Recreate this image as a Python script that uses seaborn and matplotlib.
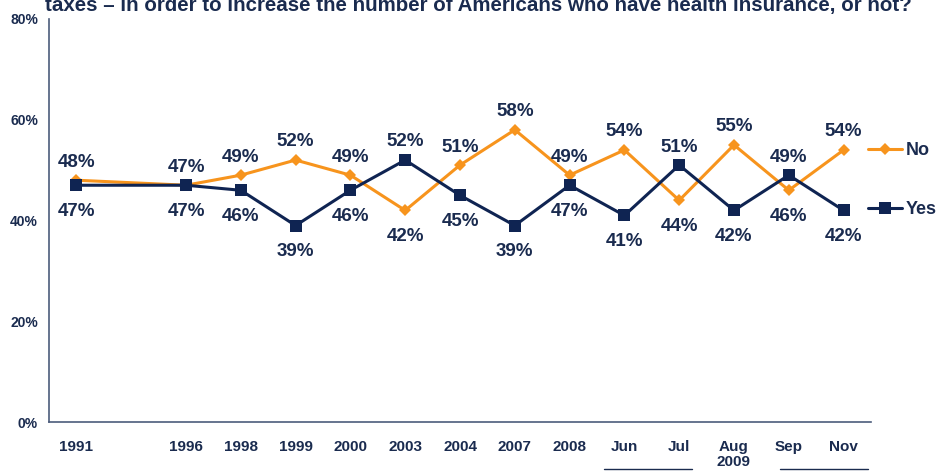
import pandas as pd
import matplotlib.pyplot as plt
import seaborn as sns

# ------------------------------
# Data
# ------------------------------
categories = ["1991", "", "1996", "1998", "1999", "2000", "2003", "2004",
              "2007", "2008", "Jun", "Jul", "Aug", "Sep", "Nov"]
waves = ["1991", "1996", "1998", "1999", "2000", "2003", "2004",
         "2007", "2008", "Jun", "Jul", "Aug", "Sep", "Nov"]
no_vals = [48, 47, 49, 52, 49, 42, 51, 58, 49, 54, 44, 55, 46, 54]
yes_vals = [47, 47, 46, 39, 46, 52, 45, 39, 47, 41, 51, 42, 49, 42]
y_ticks = [0, 20, 40, 60, 80]
title = "taxes \u2013 in order to increase the number of Americans who have health insurance, or not?"

NAVY = "#0F2452"
ORANGE = "#F7941D"
TEXT = "#1A2B4F"
AXIS = "#4C5C7C"

pos = [categories.index(w) for w in waves]
df = pd.DataFrame({
    "pos": pos * 2,
    "value": no_vals + yes_vals,
    "answer": ["No"] * len(waves) + ["Yes"] * len(waves),
})

sns.set_style("white")
plt.rcParams["font.family"] = ["Liberation Sans", "DejaVu Sans"]
plt.rcParams["font.weight"] = "bold"

fig = plt.figure(figsize=(9.41, 4.74), dpi=100)
ax = fig.add_axes([49 / 941, 52 / 474, 822 / 941, 403 / 474])

sns.lineplot(data=df, x="pos", y="value", hue="answer", style="answer",
             palette={"No": ORANGE, "Yes": NAVY},
             markers={"No": "D", "Yes": "s"}, dashes=False,
             markersize=7, linewidth=2.2, markeredgewidth=0, ax=ax)
# squares a bit bigger than diamonds
for line in ax.get_lines():
    if line.get_marker() == "s":
        line.set_markersize(8)
    elif line.get_marker() == "D":
        line.set_markersize(6)

# value labels: higher value above, lower below
for p, n, y in zip(pos, no_vals, yes_vals):
    top, bot = (n, y) if n >= y else (y, n)
    ax.annotate(f"{top}%", (p, top), xytext=(0, 13), textcoords="offset points",
                ha="center", va="center", fontsize=13.5, fontweight="bold", color=TEXT)
    ax.annotate(f"{bot}%", (p, bot), xytext=(0, -19), textcoords="offset points",
                ha="center", va="center", fontsize=13.5, fontweight="bold", color=TEXT)

ax.set_xlim(-0.5, len(categories) - 0.5)
ax.set_ylim(0, 80)
ax.set_xticks(range(len(categories)))
ax.set_xticklabels(categories)
ax.set_xticks([i - 0.5 for i in range(len(categories) + 1)], minor=True)
ax.set_yticks(y_ticks)
ax.set_yticklabels([f"{v}%" for v in y_ticks])
ax.tick_params(axis="x", which="major", length=0, pad=13, labelsize=11, labelcolor=TEXT)
ax.tick_params(axis="x", which="minor", length=5, width=1.2, color=AXIS, direction="out")
ax.tick_params(axis="y", length=4, width=1.2, color=AXIS, direction="out",
               pad=4, labelsize=10, labelcolor=TEXT)
for lbl in ax.get_xticklabels() + ax.get_yticklabels():
    lbl.set_fontweight("bold")
ax.set_xlabel("")
ax.set_ylabel("")
for side in ["top", "right"]:
    ax.spines[side].set_visible(False)
for side in ["left", "bottom"]:
    ax.spines[side].set_color(AXIS)
    ax.spines[side].set_linewidth(1.2)

# legend on the right, like end labels
leg = ax.legend(loc="center left", bbox_to_anchor=(0.9964, 0.60), frameon=False,
                borderpad=0, borderaxespad=0,
                handlelength=1.9, handletextpad=0.17, labelspacing=2.3,
                prop={"size": 13, "weight": "bold"})
for t in leg.get_texts():
    t.set_color(TEXT)

# 2009 grouping under the month labels
trans = ax.get_xaxis_transform()
aug = categories.index("Aug")
ax.text(aug, -0.1, "2009", transform=trans, ha="center", va="center",
        fontsize=11, fontweight="bold", color=TEXT)
ax.plot([categories.index("Jun") - 0.37, categories.index("Jul") + 0.23], [-0.117, -0.117],
        transform=trans, color=TEXT, lw=1, clip_on=False)
ax.plot([categories.index("Sep") - 0.16, categories.index("Nov") + 0.45], [-0.117, -0.117],
        transform=trans, color=TEXT, lw=1, clip_on=False)

# title, cut off at the top like the original slide
fig.text(0.048, 0.977, title, ha="left", va="baseline", fontsize=14.8,
         fontweight="bold", color=TEXT)

fig.savefig("out.png", dpi=100)
